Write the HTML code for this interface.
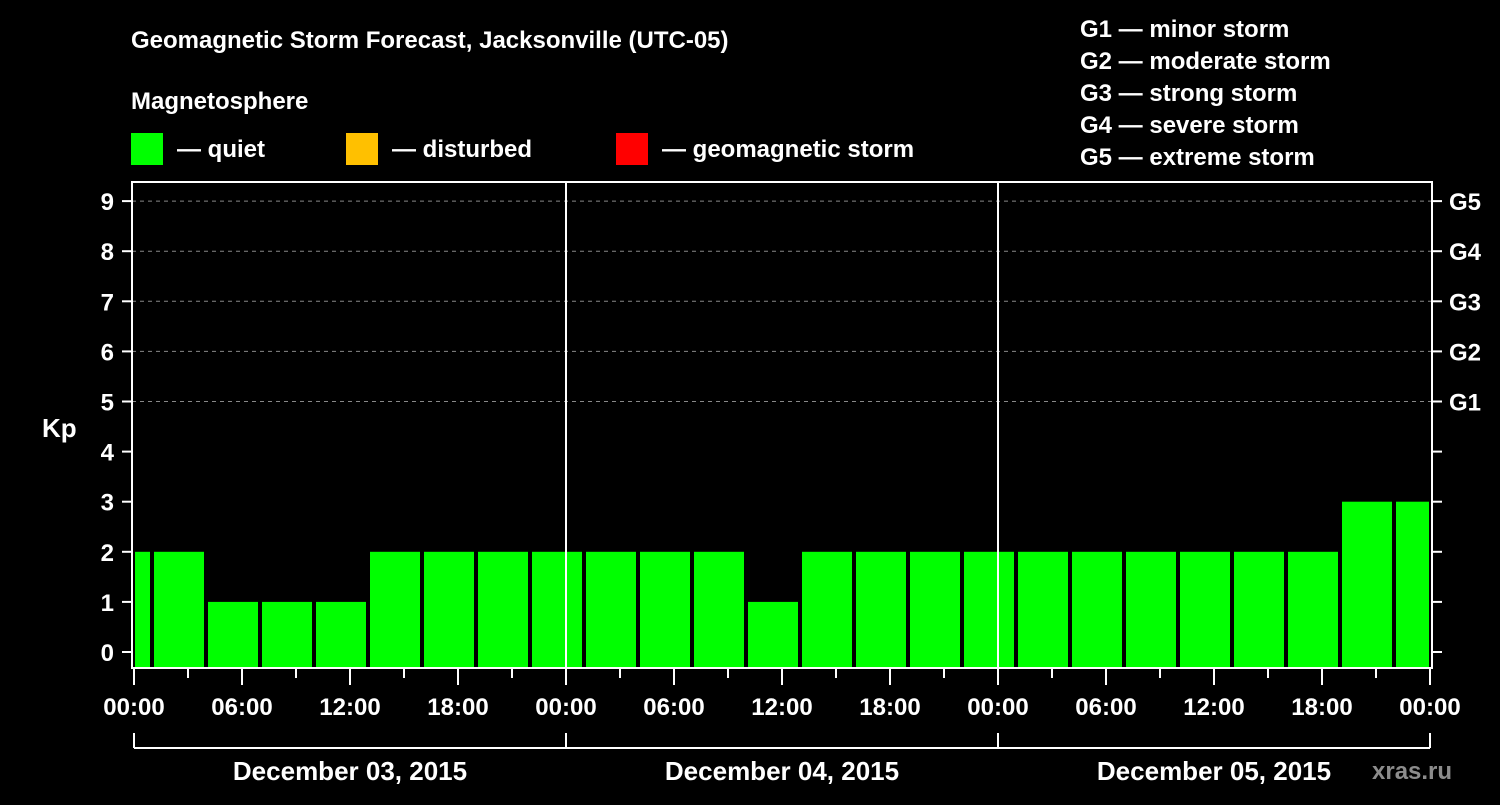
<!DOCTYPE html>
<html><head><meta charset="utf-8"><style>
body{margin:0;background:#000;}
svg text{font-family:"Liberation Sans",sans-serif;font-weight:bold;fill:#fff;}
</style></head><body>
<svg id="chart" width="1500" height="800" viewBox="0 0 1500 800" xmlns="http://www.w3.org/2000/svg">
<rect width="1500" height="800" fill="#000"/>
<text x="131" y="48" font-size="24">Geomagnetic Storm Forecast, Jacksonville (UTC-05)</text>
<text x="131" y="109" font-size="24">Magnetosphere</text>
<rect x="131" y="133" width="32" height="32" fill="#00ff00"/>
<text x="177" y="157" font-size="24">— quiet</text>
<rect x="346" y="133" width="32" height="32" fill="#ffc000"/>
<text x="392" y="157" font-size="24">— disturbed</text>
<rect x="616" y="133" width="32" height="32" fill="#ff0000"/>
<text x="662" y="157" font-size="24">— geomagnetic storm</text>
<g font-size="24">
<text x="1080" y="37">G1 — minor storm</text>
<text x="1080" y="69">G2 — moderate storm</text>
<text x="1080" y="101">G3 — strong storm</text>
<text x="1080" y="133">G4 — severe storm</text>
<text x="1080" y="165">G5 — extreme storm</text>
</g>
<text x="42" y="437" font-size="26">Kp</text>
<text x="1372" y="779" font-size="24" style="fill:#8c8c8c">xras.ru</text>
<g id="grid"></g><g id="bars"></g><g id="axes"></g>
</svg>
<script>
const kpValues=[2,2,1,1,1,2,2,2,2,2,2,2,1,2,2,2,2,2,2,2,2,2,2,3,3];
const barStartHours=[-2,1,4,7,10,13,16,19,22,25,28,31,34,37,40,43,46,49,52,55,58,61,64,67,70];
const yTicks=[0,1,2,3,4,5,6,7,8,9];
const gLabels=["","","","","","G1","G2","G3","G4","G5"];
const xTickLabels=["00:00","06:00","12:00","18:00","00:00","06:00","12:00","18:00","00:00","06:00","12:00","18:00","00:00"];
const dayLabels=["December 03, 2015","December 04, 2015","December 05, 2015"];
const NS="http://www.w3.org/2000/svg";
const X0=134,PXH=18,HMAX=72,PL=132,PR=1432,PT=182,PB=668;
const xs=h=>X0+h*PXH;
const ys=v=>652-v*50.1;
function mk(t,a,p){const e=document.createElementNS(NS,t);for(const k in a)e.setAttribute(k,a[k]);p.appendChild(e);return e;}
const grid=document.getElementById('grid'),bars=document.getElementById('bars'),axes=document.getElementById('axes');
yTicks.forEach((v,i)=>{
 if(v>=5){const l=mk('line',{x1:PL,x2:PR,y1:ys(v),y2:ys(v),stroke:'#888','stroke-dasharray':'4,4','stroke-width':1},grid);
 
 }
 mk('line',{x1:PL-10,x2:PL,y1:ys(v),y2:ys(v),stroke:'#fff','stroke-width':2},axes);
 mk('line',{x1:PR,x2:PR+10,y1:ys(v),y2:ys(v),stroke:'#fff','stroke-width':2},axes);
 const t=mk('text',{x:PL-18,y:ys(v)+9,'font-size':24,'text-anchor':'end'},axes);t.textContent=v;
 
 
 if(gLabels[i]){const g=mk('text',{x:PR+17,y:ys(v)+9,'font-size':24},axes);g.textContent=gLabels[i];
 
 }
});
kpValues.forEach((v,i)=>{
 let a=xs(barStartHours[i])+2,b=xs(barStartHours[i]+3)-2;
 a=Math.max(a,PL+3);b=Math.min(b,PR-3);
 const c=v>=5?'#ff0000':(v>=4?'#ffc000':'#00ff00');
 const r=mk('rect',{x:a,y:ys(v),width:b-a,height:PB-ys(v),fill:c},bars);
 
 
});
const box=mk('rect',{x:PL,y:PT,width:PR-PL,height:PB-PT,fill:'none',stroke:'#fff','stroke-width':2},axes);


[1,2].forEach(d=>{mk('line',{x1:xs(d*24),x2:xs(d*24),y1:PT,y2:PB,stroke:'#fff','stroke-width':2},axes);});
for(let h=0;h<=HMAX;h+=3){const major=h%6===0;
 mk('line',{x1:xs(h),x2:xs(h),y1:PB,y2:PB+(major?17:10),stroke:'#fff','stroke-width':2},axes);}
xTickLabels.forEach((s,i)=>{const t=mk('text',{x:xs(i*6),y:715,'font-size':24,'text-anchor':'middle'},axes);t.textContent=s;
 
 });
mk('line',{x1:xs(0),x2:xs(HMAX),y1:748,y2:748,stroke:'#fff','stroke-width':2},axes);
for(let d=0;d<=3;d++)mk('line',{x1:xs(d*24),x2:xs(d*24),y1:733,y2:748,stroke:'#fff','stroke-width':2},axes);
dayLabels.forEach((s,i)=>{const t=mk('text',{x:xs(i*24+12),y:780,'font-size':26,'text-anchor':'middle'},axes);t.textContent=s;
 
 });
</script>
</body></html>
